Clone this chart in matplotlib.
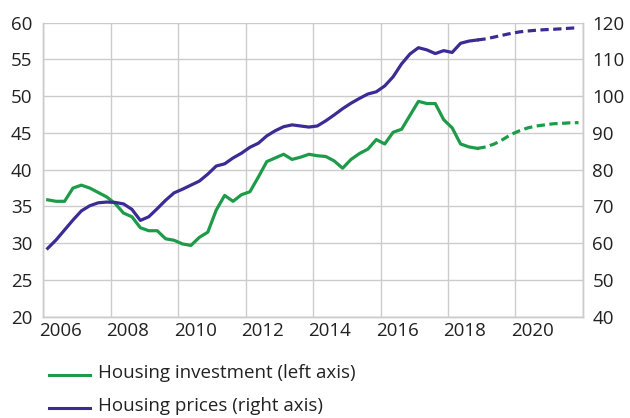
import matplotlib
matplotlib.use("Agg")
import matplotlib.pyplot as plt
import numpy as np

plt.rcParams['font.family'] = ['Open Sans', 'DejaVu Sans']

# quarterly points, 2006Q1 .. 2021Q4 (plotted at mid-quarter)
quarters = 2006.125 + 0.25 * np.arange(64)

# housing investment, left axis (actual through 2018Q4, then projection)
invest_actual = [35.9, 35.7, 35.7, 37.5, 37.9, 37.5, 36.9, 36.3, 35.4, 34.1,
                 33.6, 32.1, 31.7, 31.7, 30.6, 30.4, 29.9, 29.7, 30.8, 31.5,
                 34.5, 36.5, 35.7, 36.6, 37.0, 39.0, 41.1, 41.6, 42.1, 41.4,
                 41.7, 42.1, 41.9, 41.8, 41.2, 40.2, 41.4, 42.2, 42.8, 44.1,
                 43.5, 45.1, 45.5, 47.4, 49.3, 49.0, 49.0, 46.8, 45.7, 43.5,
                 43.1, 42.9]
invest_proj = [42.9, 43.1, 43.5, 44.1, 44.8, 45.3, 45.7, 45.95, 46.1, 46.25,
               46.3, 46.38, 46.4]

# housing prices, right axis
prices_actual = [58.6, 60.9, 63.6, 66.3, 68.8, 70.2, 71.0, 71.2, 71.1, 70.7,
                 69.2, 66.2, 67.2, 69.4, 71.7, 73.7, 74.7, 75.8, 76.9, 78.8,
                 81.0, 81.6, 83.2, 84.5, 86.1, 87.2, 89.2, 90.6, 91.7, 92.2,
                 91.9, 91.6, 91.9, 93.3, 94.9, 96.6, 98.1, 99.4, 100.6, 101.2,
                 102.8, 105.3, 108.8, 111.5, 113.2, 112.6, 111.6, 112.4, 111.9, 114.4,
                 115.0, 115.3]
prices_proj = [115.3, 115.6, 116.1, 116.6, 117.1, 117.5, 117.75, 117.95, 118.1, 118.2,
               118.35, 118.5, 118.65]

green = '#1e9b48'
purple = '#3d2b95'
grid_c = '#cccccc'
txt_c = '#222222'
fs = 13.5

n_act = len(invest_actual)
x_act = quarters[:n_act]
x_proj = quarters[n_act - 1:]

fig = plt.figure(figsize=(6.3, 4.18), dpi=100)
ax = fig.add_axes([0.069, 0.2423, 0.856, 0.7034])
ax2 = ax.twinx()

ax.plot(x_act, invest_actual, color=green, lw=2.3, solid_joinstyle='round')
ax.plot(x_proj, invest_proj, color=green, lw=2.3, ls=(0, (2.6, 1.4)))
ax2.plot(x_act, prices_actual, color=purple, lw=2.3, solid_joinstyle='round')
ax2.plot(x_proj, prices_proj, color=purple, lw=2.3, ls=(0, (2.6, 1.4)))

ax.set_xlim(2006, 2022)
ax.set_ylim(20, 60)
ax2.set_ylim(40, 120)
ax.set_yticks(np.arange(20, 61, 5))
ax2.set_yticks(np.arange(40, 121, 10))

# gridlines on even years, labels centred half a year to the right
ax.set_xticks(np.arange(2006, 2023, 2))
ax.set_xticklabels([])
ax.set_xticks(np.arange(2006.5, 2021, 2), minor=True)
ax.set_xticklabels([str(y) for y in range(2006, 2021, 2)], minor=True)
ax.tick_params(axis='x', which='both', length=0, labelsize=fs, colors=txt_c, pad=4)
ax.tick_params(axis='y', length=0, labelsize=fs, colors=txt_c, pad=8)
ax2.tick_params(axis='y', length=0, labelsize=fs, colors=txt_c, pad=7)

ax.grid(True, which='major', color=grid_c, lw=1)
ax.set_axisbelow(True)
for a in (ax, ax2):
    a.spines['top'].set_visible(False)
    for s in ('left', 'right', 'bottom'):
        a.spines[s].set_color(grid_c)
        a.spines[s].set_linewidth(1)

# legend below the plot
leg_items = [('Housing investment (left axis)', green, 0.103, 0.0945),
             ('Housing prices (right axis)', purple, 0.024, 0.0165)]
for label, col, yl, yt in leg_items:
    fig.add_artist(plt.Line2D([0.078, 0.143], [yl, yl], color=col, lw=2.2))
    fig.text(0.156, yt, label, fontsize=fs, color=txt_c, va='baseline')

fig.savefig('out.png', dpi=100)
